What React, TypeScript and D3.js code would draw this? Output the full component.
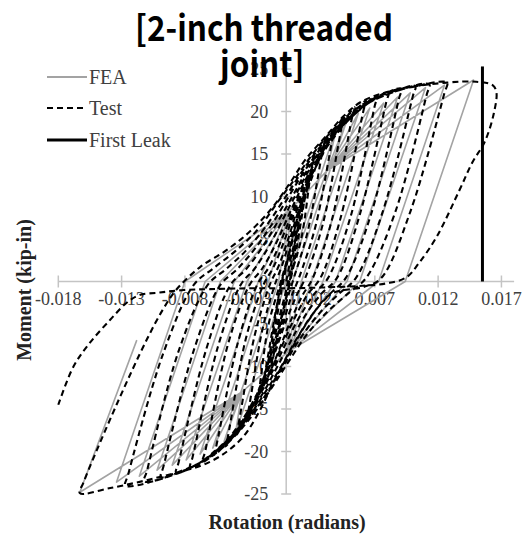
import React from 'react';
import * as d3 from 'd3';

type P = [number, number];

const X_TICKS = [-0.018, -0.013, -0.008, -0.003, 0.002, 0.007, 0.012, 0.017];
const X_TICK_LABELS = ['-0.018', '-0.013', '-0.008', '-0.003', '0.002', '0.007', '0.012', '0.017'];
const Y_TICKS = [-25, -20, -15, -10, -5, 0, 5, 10, 15, 20, 25];
const X_DOMAIN: P = [-0.018, 0.018];
const Y_DOMAIN: P = [-25, 25];

const FIRST_LEAK: P[] = [[0.0155, 0], [0.0155, 25.3]];

const FEA: P[] = [
  [0, 0], [0.0032, 13], [0.004, 18.2],
  [-0.0001, 0], [0.0001, -8.3], [-0.0035, -13], [-0.004, -17.8],
  [0.0, 0], [0.0003, 8.4], [0.0032, 13], [0.0048, 19.0],
  [0.0005, 0], [0.0001, -8.3], [-0.0035, -13], [-0.0049, -18.8],
  [-0.0006, 0], [0.0003, 8.4], [0.0032, 13], [0.0057, 19.8],
  [0.0012, 0], [0.0001, -8.3], [-0.0035, -13], [-0.0058, -19.6],
  [-0.0014, 0], [0.0003, 8.4], [0.0032, 13], [0.0066, 20.4],
  [0.002, 0], [0.0001, -8.3], [-0.0035, -13], [-0.0068, -20.3],
  [-0.0022, 0], [0.0003, 8.4], [0.0032, 13], [0.0077, 21.0],
  [0.0029, 0], [0.0001, -8.3], [-0.0035, -13], [-0.0079, -21.0],
  [-0.0031, 0], [0.0003, 8.4], [0.0032, 13], [0.0088, 21.7],
  [0.0039, 0], [0.0001, -8.3], [-0.0035, -13], [-0.009, -21.6],
  [-0.0041, 0], [0.0003, 8.4], [0.0032, 13], [0.0098, 22.2],
  [0.0048, 0], [0.0001, -8.3], [-0.0035, -13], [-0.0102, -22.2],
  [-0.0052, 0], [0.0003, 8.4], [0.0032, 13], [0.011, 22.8],
  [0.0058, 0], [0.0001, -8.3], [-0.0035, -13], [-0.0116, -22.9],
  [-0.0064, 0], [0.0003, 8.4], [0.0032, 13], [0.0125, 23.1],
  [0.0073, 0], [0.0001, -8.3], [-0.0035, -13], [-0.0134, -23.6],
  [-0.008, 0], [0.0003, 8.4], [0.0032, 13], [0.0148, 23.7],
  [0.0094, 0], [0.0001, -8.3], [-0.0035, -13], [-0.0163, -24.8],
  [-0.0118, -6.9],
];

const TEST: P[] = [
  [0, 0], [0.0004, 3], [0.0008, 5.5], [0.001, 7],
  [0.0008, 5.5], [0.0002, 0.5], [-0.0003, -3], [-0.0008, -5.8], [-0.0011, -7],
  [-0.0009, -5.6], [-0.0003, -0.5], [0.0002, 3], [0.0008, 6.5], [0.0014, 10],
  [0.0012, 8.5], [0.0004, 1], [-0.0001, -2.5], [-0.0008, -6.5], [-0.0015, -10],
  [-0.0013, -8.5], [-0.0005, -1], [0.0001, 2.5], [0.0008, 7], [0.0014, 10.5], [0.0018, 12.5],
  [0.0016, 11], [0.0006, 2], [0.0, -2], [-0.0007, -6.5], [-0.0013, -10.5], [-0.0019, -12.5],
  [-0.0017, -11], [-0.0007, -2.5], [-0.0001, 1.5],
  [0.0006, 4], [0.0012, 8], [0.0018, 11.8], [0.0022, 14.5],
  [0.002, 13.3], [0.0012, 5.1], [0.0003, 0.4],
  [-0.0002, -2.2], [-0.0008, -5.8], [-0.0014, -9.3], [-0.002, -12.5], [-0.0024, -14.5],
  [-0.0022, -13.3], [-0.0014, -5.1], [-0.0005, -0.4],
  [0.0, 2.2], [0.0006, 5.8], [0.0013, 9.3], [0.0022, 12.9], [0.0031, 16.8],
  [0.0029, 15.6], [0.0017, 5.9], [0.0006, 0.4],
  [0.0001, -2.0], [-0.0005, -5.5], [-0.0012, -9], [-0.0021, -12.5], [-0.0032, -16.5],
  [-0.003, -15.3], [-0.0019, -5.8], [-0.0009, -0.4],
  [-0.0003, 2], [0.0004, 5.5], [0.0011, 8.9], [0.002, 12.3], [0.003, 15.6], [0.0039, 18.3],
  [0.0037, 17.1], [0.0023, 6.4], [0.001, 0.4],
  [0.0004, -1.8], [-0.0003, -5.2], [-0.001, -8.6], [-0.0019, -12], [-0.0029, -15.3], [-0.004, -18.2],
  [-0.0038, -17], [-0.0025, -6.4], [-0.0013, -0.4],
  [-0.0006, 1.8], [0.0002, 5.2], [0.0009, 8.6], [0.0018, 11.9], [0.0029, 15.0], [0.0038, 17.6], [0.0046, 19.5],
  [0.0044, 18.3], [0.0029, 6.8], [0.0015, 0.4],
  [0.0008, -1.7], [-0.0001, -5], [-0.0009, -8.4], [-0.0018, -11.7], [-0.0029, -14.9], [-0.004, -17.8], [-0.0048, -19.4],
  [-0.0046, -18.2], [-0.0032, -6.8], [-0.0018, -0.4],
  [-0.001, 1.7], [-0.0001, 5], [0.0007, 8.4], [0.0016, 11.6], [0.0027, 14.6], [0.004, 17.6], [0.0054, 20.5],
  [0.0052, 19.3], [0.0036, 7.2], [0.0021, 0.4],
  [0.0013, -1.6], [0.0003, -4.8], [-0.0006, -8.2], [-0.0015, -11.4], [-0.0026, -14.5], [-0.004, -17.7], [-0.0057, -20.4],
  [-0.0055, -19.2], [-0.0038, -7.1], [-0.0023, -0.4],
  [-0.0014, 1.6], [-0.0004, 4.8], [0.0005, 8.2], [0.0014, 11.3], [0.0025, 14.3], [0.004, 17.4], [0.0052, 19.6], [0.0063, 21.3],
  [0.0061, 20.1], [0.0043, 7.5], [0.0027, 0.4],
  [0.0017, -1.5], [0.0006, -4.5], [-0.0004, -7.8], [-0.0014, -11], [-0.0025, -14], [-0.0039, -17.2], [-0.0052, -19.6], [-0.0066, -21.2],
  [-0.0064, -20], [-0.0046, -7.4], [-0.0029, -0.4],
  [-0.0019, 1.5], [-0.0008, 4.5], [0.0002, 7.8], [0.0012, 11], [0.0023, 14], [0.0037, 17], [0.0055, 19.8], [0.0072, 21.9],
  [0.007, 20.7], [0.0051, 7.7], [0.0033, 0.4],
  [0.0022, -1.5], [0.001, -4.3], [-0.0001, -7.5], [-0.0011, -10.6], [-0.0022, -13.6], [-0.0036, -16.8], [-0.0055, -19.8], [-0.0076, -21.9],
  [-0.0074, -20.7], [-0.0054, -7.7], [-0.0036, -0.4],
  [-0.0025, 1.5], [-0.0013, 4.3], [-0.0002, 7.5], [0.0009, 10.6], [0.002, 13.6], [0.0034, 16.6], [0.0052, 19.4], [0.0068, 21.3], [0.0081, 22.3],
  [0.0079, 21.1], [0.0058, 7.8], [0.004, 0.4],
  [0.0028, -1.4], [0.0015, -4], [0.0003, -7.2], [-0.0008, -10.3], [-0.0019, -13.3], [-0.0033, -16.4], [-0.005, -19.2], [-0.0068, -21.3], [-0.0087, -22.5],
  [-0.0085, -21.3], [-0.0063, -7.9], [-0.0044, -0.4],
  [-0.0032, 1.4], [-0.0019, 4], [-0.0006, 7.2], [0.0006, 10.3], [0.0017, 13.2], [0.0031, 16.2], [0.0048, 19.0], [0.0068, 21.3], [0.0091, 22.7],
  [0.0089, 21.5], [0.0067, 7.9], [0.0047, 0.4],
  [0.0035, -1.4], [0.0021, -3.8], [0.0008, -6.8], [-0.0004, -10], [-0.0016, -12.9], [-0.003, -16], [-0.0047, -18.9], [-0.0068, -21.3], [-0.0085, -22.4], [-0.0099, -23.0],
  [-0.0097, -21.8], [-0.0073, -8.1], [-0.0052, -0.4],
  [-0.0039, 1.4], [-0.0025, 3.8], [-0.0011, 6.8], [0.0002, 10], [0.0014, 12.9], [0.0028, 15.8], [0.0045, 18.7], [0.0065, 21.0], [0.0085, 22.3], [0.0102, 23.0],
  [0.01, 21.8], [0.0076, 8.1], [0.0055, 0.4],
  [0.0042, -1.4], [0.0027, -3.6], [0.0012, -6.5], [-0.0001, -9.6], [-0.0013, -12.6], [-0.0027, -15.6], [-0.0044, -18.6], [-0.0062, -20.8], [-0.0087, -22.6], [-0.0112, -23.5],
  [-0.011, -22.3], [-0.0085, -8.2], [-0.0062, -0.4],
  [-0.0048, 1.4], [-0.0032, 3.6], [-0.0016, 6.5], [-0.0002, 9.6], [0.0011, 12.6], [0.0025, 15.5], [0.0042, 18.4], [0.006, 20.6], [0.0085, 22.3], [0.0113, 23.2],
  [0.0111, 22], [0.0086, 8.1], [0.0063, 0.4],
  [0.0049, -1.4], [0.0033, -3.5], [0.0016, -6.3], [0.0002, -9.4], [-0.0011, -12.4], [-0.0025, -15.4], [-0.0042, -18.4], [-0.0062, -20.9], [-0.009, -22.8], [-0.0127, -24.0],
  [-0.0125, -22.8], [-0.0097, -8.4], [-0.0073, -0.4],
  [-0.0058, 1.5], [-0.004, 3.6], [-0.0022, 6.2], [-0.0006, 9.5], [0.0008, 12.3], [0.0022, 15.2], [0.0038, 18.0], [0.0055, 20.3], [0.0075, 21.9], [0.01, 22.9], [0.0127, 23.4],
  [0.0125, 22.2], [0.0098, 8.2], [0.0075, 0.4],
  [0.0062, -0.6], [0.0035, -1.5], [0.0018, -4.5], [0.0004, -8], [-0.001, -11.8], [-0.0022, -15.5], [-0.0036, -18.6], [-0.006, -21.2], [-0.01, -23.0], [-0.0139, -24.3], [-0.0163, -24.9],
  [-0.016, -23.6], [-0.0134, -14.5], [-0.011, -6.8], [-0.0097, -3.2], [-0.0087, -1.0],
  [-0.0068, 1.7], [-0.0048, 3.6], [-0.003, 5.7], [-0.0012, 8.5], [0.0003, 11.6], [0.0015, 14.3], [0.0032, 17.2], [0.0045, 19.4], [0.006, 21.2], [0.0088, 22.6], [0.0127, 23.4], [0.015, 23.5], [0.0163, 23.1],
  [0.0166, 22.3], [0.0164, 19.8], [0.0157, 16.5], [0.0147, 14.0], [0.0137, 10.8], [0.0119, 5.3], [0.0105, 2.2], [0.0095, 0.5],
  [0.008, -0.2], [0.006, -0.5], [0.003, -0.7], [0.0, -0.8], [-0.003, -0.8], [-0.006, -0.9], [-0.0081, -1.0], [-0.01, -1.3], [-0.0116, -1.6], [-0.0126, -2.5], [-0.0139, -4.5], [-0.0155, -7.2], [-0.0168, -10.0], [-0.018, -14.5],
];

const LEGEND = [
  { label: 'FEA', color: '#a3a3a3', dash: '', width: 2 },
  { label: 'Test', color: '#000', dash: '6,4', width: 2 },
  { label: 'First Leak', color: '#000', dash: '', width: 3 },
];

const TITLE_LINES = ['[2-inch threaded', 'joint]'];

export default function App() {
  const W = 525, H = 537;
  const x = d3.scaleLinear().domain(X_DOMAIN).range([58.3, 514.1]);
  const y = d3.scaleLinear().domain(Y_DOMAIN).range([494, 69]);
  const x0 = x(0), y0 = y(0);
  const feaLine = d3.line<P>().x(d => x(d[0])).y(d => y(d[1]));
  const testLine = d3.line<P>().x(d => x(d[0])).y(d => y(d[1])).curve(d3.curveCatmullRom.alpha(0.5));
  const axisColor = '#c4c4c4';
  const textColor = '#404040';
  const serif = "'Liberation Serif', 'Times New Roman', serif";
  const legendY = [77, 108, 140];
  const titleFont = "'Noto Sans CJK KR', 'Noto Sans', sans-serif";

  return (
    <svg width={W} height={H} style={{ position: 'absolute', left: 0, top: 0, background: '#fff' }}>
      <rect x={0} y={0} width={W} height={H} fill="#fff" />
      <line x1={x(X_DOMAIN[0])} x2={x(X_DOMAIN[1])} y1={y0} y2={y0} stroke={axisColor} strokeWidth={1.5} />
      <line x1={x0} x2={x0} y1={y(Y_DOMAIN[0])} y2={y(Y_DOMAIN[1])} stroke={axisColor} strokeWidth={1.5} />
      {X_TICKS.map((t, i) => (
        <g key={'xt' + i}>
          <line x1={x(t)} x2={x(t)} y1={y0 - 6} y2={y0 + 6} stroke={axisColor} strokeWidth={1.5} />
          <text x={x(t)} y={y0 + 23} textAnchor="middle" fontFamily={serif} fontSize={18} fill={textColor}>
            {X_TICK_LABELS[i]}
          </text>
        </g>
      ))}
      {Y_TICKS.map((t, i) => (
        <g key={'yt' + i}>
          <line x1={x0 - 5} x2={x0 + 5} y1={y(t)} y2={y(t)} stroke={axisColor} strokeWidth={1.5} />
          <text x={x0 - 18} y={y(t)} dy="0.35em" textAnchor="end" fontFamily={serif} fontSize={18} fill={textColor}>
            {t}
          </text>
        </g>
      ))}
      <path d={feaLine(FEA) || ''} fill="none" stroke="#a3a3a3" strokeWidth={1.6} strokeLinejoin="round" />
      <path d={testLine(TEST) || ''} fill="none" stroke="#000" strokeWidth={2.1} strokeDasharray="6,4" />
      <path d={feaLine(FIRST_LEAK) || ''} fill="none" stroke="#000" strokeWidth={3} />
      <text x={287} y={529} textAnchor="middle" fontFamily={serif} fontWeight="bold" fontSize={20} fill="#222">
        Rotation (radians)
      </text>
      <text transform={`translate(31,290) rotate(-90)`} textAnchor="middle" fontFamily={serif} fontWeight="bold" fontSize={20} fill="#222">
        Moment (kip-in)
      </text>
      {LEGEND.map((l, i) => (
        <g key={'lg' + i}>
          <line x1={47} x2={87} y1={legendY[i]} y2={legendY[i]} stroke={l.color} strokeWidth={l.width} strokeDasharray={l.dash || undefined} />
          <text x={89} y={legendY[i] + 6.5} fontFamily={serif} fontSize={20} fill={textColor}>{l.label}</text>
        </g>
      ))}
      <g transform="translate(264,0) scale(0.9,1)">
        <text x={0} y={41} textAnchor="middle" fontFamily={titleFont} fontWeight="bold" fontSize={35} fill="#000">
          {TITLE_LINES[0]}
        </text>
        <text x={-2} y={77} textAnchor="middle" fontFamily={titleFont} fontWeight="bold" fontSize={35} fill="#000">
          {TITLE_LINES[1]}
        </text>
      </g>
    </svg>
  );
}
